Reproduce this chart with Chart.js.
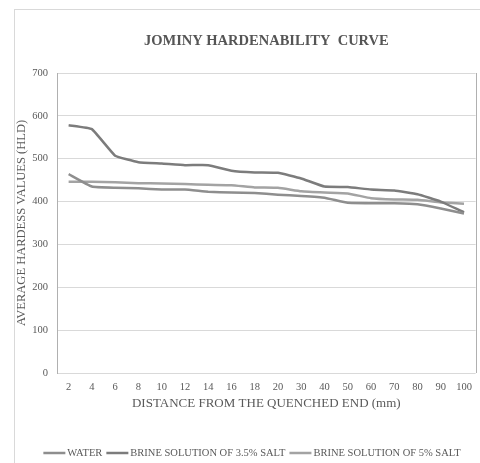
<!DOCTYPE html>
<html>
<head>
<meta charset="utf-8">
<script src="https://cdn.jsdelivr.net/npm/chart.js@4.4.1/dist/chart.umd.min.js"></script>
<style>
  html, body { margin: 0; padding: 0; background: #fff; }
  #wrap { position: relative; width: 480px; height: 463px; }
  #frame { position: absolute; left: 14px; top: 9px; right: 0; bottom: 0; border-left: 1px solid #d9d9d9; border-top: 1px solid #d9d9d9; }
  canvas { position: absolute; left: 0; top: 0; }
</style>
</head>
<body>
<div id="wrap"><div id="frame"></div><canvas id="c" width="480" height="463"></canvas></div>
<script>
const categories = ['2','4','6','8','10','12','14','16','18','20','30','40','50','60','70','80','90','100'];
const water   = [464, 435, 432, 431, 428, 428, 423, 421, 420, 416, 413, 409, 397, 396, 396, 394, 384, 372];
const brine35 = [578, 569, 507, 492, 489, 485, 485, 472, 468, 467, 454, 435, 434, 428, 426, 417, 400, 375];
const brine5  = [446, 446, 445, 443, 442, 441, 439, 438, 433, 432, 424, 421, 419, 408, 405, 404, 398, 395];
const seriesNames = ['WATER', 'BRINE SOLUTION OF 3.5% SALT', 'BRINE SOLUTION OF 5% SALT'];
const seriesColors = ['#8e8e8e', '#7c7c7c', '#a3a3a3'];
const yTicks = [0, 100, 200, 300, 400, 500, 600, 700];

const SERIF = '"Liberation Serif", "Times New Roman", serif';
const TEXT = '#595959';

const titlePlugin = {
  id: 'customTitle',
  afterDraw(chart) {
    const ctx = chart.ctx, a = chart.chartArea;
    ctx.save();
    ctx.font = 'bold 14.5px ' + SERIF;
    ctx.fillStyle = '#555555';
    ctx.textAlign = 'center';
    ctx.textBaseline = 'middle';
    ctx.fillText('JOMINY HARDENABILITY  CURVE', (a.left + a.right) / 2, 41);
    ctx.strokeStyle = '#b0b0b0';
    ctx.lineWidth = 1;
    ctx.beginPath();
    ctx.moveTo(Math.round(a.right) + 0.5, a.top);
    ctx.lineTo(Math.round(a.right) + 0.5, a.bottom);
    ctx.stroke();
    ctx.restore();
  }
};

const legendPlugin = {
  id: 'customLegend',
  afterDraw(chart) {
    const ctx = chart.ctx;
    ctx.save();
    ctx.font = '10.5px ' + SERIF;
    const sw = 22, gapT = 2, gapI = 4;
    const widths = chart.data.datasets.map(d => sw + gapT + ctx.measureText(d.label).width);
    const total = widths.reduce((s, w) => s + w, 0) + gapI * (widths.length - 1);
    let x = 252 - total / 2;
    const y = 453;
    chart.data.datasets.forEach((d, i) => {
      ctx.strokeStyle = d.borderColor;
      ctx.lineWidth = 2.5;
      ctx.beginPath();
      ctx.moveTo(x, y);
      ctx.lineTo(x + sw, y);
      ctx.stroke();
      ctx.fillStyle = TEXT;
      ctx.textAlign = 'left';
      ctx.textBaseline = 'middle';
      ctx.fillText(d.label, x + sw + gapT, y + 0.5);
      x += widths[i] + gapI;
    });
    ctx.restore();
  }
};

new Chart(document.getElementById('c'), {
  type: 'line',
  data: {
    labels: categories,
    datasets: [water, brine35, brine5].map((vals, i) => ({
      label: seriesNames[i],
      data: vals,
      borderColor: seriesColors[i],
      backgroundColor: seriesColors[i],
      borderWidth: 2.5,
      pointRadius: 0,
      tension: 0.1,
      fill: false
    }))
  },
  options: {
    responsive: false,
    animation: false,
    devicePixelRatio: 1,
    layout: { padding: { top: 73, right: 4, left: 0, bottom: 0 } },
    plugins: { legend: { display: false }, title: { display: false }, tooltip: { enabled: false } },
    scales: {
      x: {
        type: 'category',
        offset: true,
        grid: { display: false, drawTicks: false },
        border: { display: false },
        ticks: { color: TEXT, font: { family: SERIF, size: 10.5 }, padding: 8, maxRotation: 0, autoSkip: false },
        title: { display: true, text: 'DISTANCE FROM THE QUENCHED END (mm)', color: TEXT, font: { family: SERIF, size: 13 }, padding: { top: 0, bottom: 52 } },
        afterFit(s) { s.height = 90; }
      },
      y: {
        min: 0, max: 700,
        afterBuildTicks(s) { s.ticks = yTicks.map(v => ({ value: v })); },
        grid: { color: '#d9d9d9', lineWidth: 1, drawTicks: false },
        border: { display: true, color: '#b0b0b0', width: 1 },
        ticks: { color: TEXT, font: { family: SERIF, size: 10.5 }, padding: 9 },
        title: { display: true, text: 'AVERAGE HARDESS VALUES (HLD)', color: TEXT, font: { family: SERIF, size: 12.5 }, padding: { top: 14, bottom: 0 } },
        afterFit(s) { s.width = 57; }
      }
    }
  },
  plugins: [titlePlugin, legendPlugin]
});
</script>
</body>
</html>
